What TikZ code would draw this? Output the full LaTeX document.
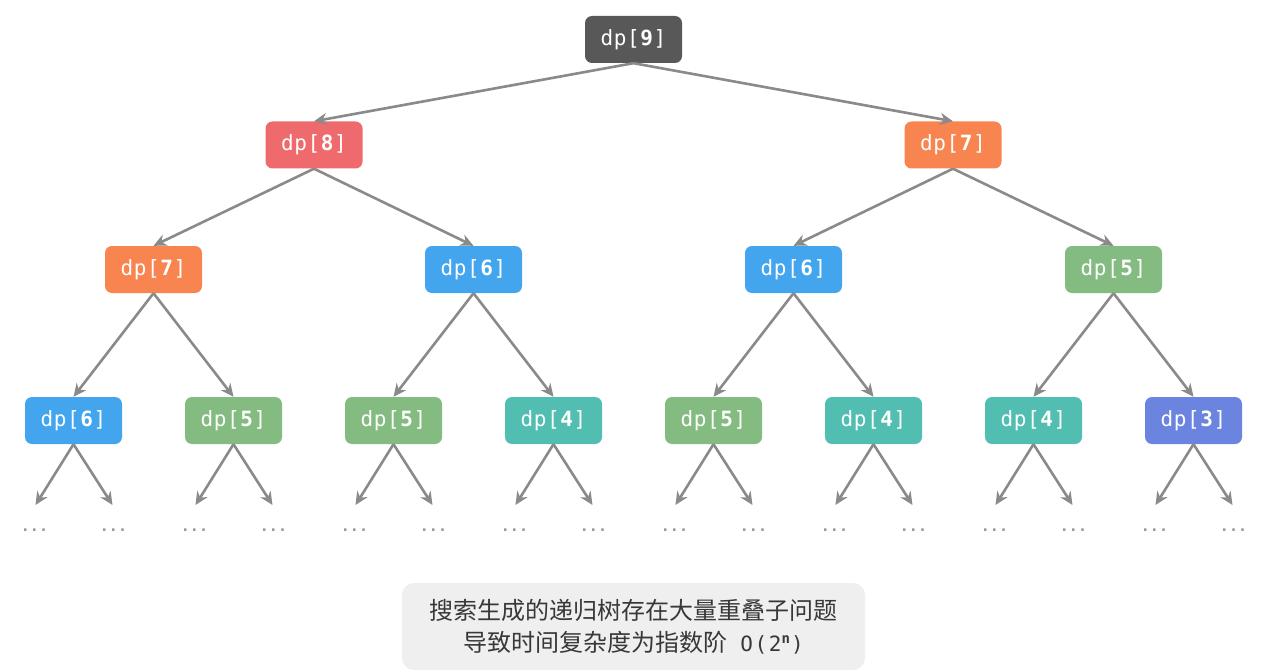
\documentclass[tikz,border=0pt]{standalone}
\usepackage{fontspec}
\setmainfont{DejaVu Sans}
\newfontfamily\dpmono[LetterSpace=3]{DejaVu Sans Mono}
\newfontfamily\capmono[LetterSpace=8]{DejaVu Sans Mono}
\newfontfamily\plainmono{DejaVu Sans Mono}
\newfontfamily\cjkfont{Noto Sans CJK SC}
\usetikzlibrary{arrows.meta}
\definecolor{cnine}{HTML}{585858}
\definecolor{ceight}{HTML}{EE6A6C}
\definecolor{cseven}{HTML}{F8854F}
\definecolor{csix}{HTML}{42A5EE}
\definecolor{cfive}{HTML}{83BB80}
\definecolor{cfour}{HTML}{52BDB1}
\definecolor{cthree}{HTML}{6B84DF}
\definecolor{edgegray}{HTML}{8A8A8A}
\definecolor{dotgray}{HTML}{999999}
\definecolor{capbg}{HTML}{EFEFEF}
\definecolor{captext}{HTML}{383838}
\newcommand\dpl[1]{dp[\textbf{#1}]}
\tikzset{
  dpbox/.style={rounded corners=7pt, minimum width=97pt, minimum height=47pt,
    inner sep=0pt, text=white, font=\dpmono\fontsize{21}{21}\selectfont},
  edge/.style={draw=edgegray, line width=2.6pt, -{Stealth[length=13pt,width=12pt]}},
  leafdots/.style={text=dotgray, inner sep=0pt, font=\plainmono\bfseries\fontsize{15}{15}\selectfont}
}
\begin{document}
\begin{tikzpicture}[x=1pt,y=-1pt]
\useasboundingbox (0,0) rectangle (1266,671);
% level 0
\node[dpbox, fill=cnine] (n9) at (633.5,39.5) {\dpl{9}};
% level 1
\node[dpbox, fill=ceight] (a8) at (314,145) {\dpl{8}};
\node[dpbox, fill=cseven] (a7) at (953,145) {\dpl{7}};
% level 2
\node[dpbox, fill=cseven] (b7) at (153.5,269.5) {\dpl{7}};
\node[dpbox, fill=csix]   (b6) at (473.5,269.5) {\dpl{6}};
\node[dpbox, fill=csix]   (c6) at (793.5,269.5) {\dpl{6}};
\node[dpbox, fill=cfive]  (c5) at (1113.5,269.5) {\dpl{5}};
% level 3
\node[dpbox, fill=csix]   (d1) at (73.5,420.5) {\dpl{6}};
\node[dpbox, fill=cfive]  (d2) at (233.5,420.5) {\dpl{5}};
\node[dpbox, fill=cfive]  (d3) at (393.5,420.5) {\dpl{5}};
\node[dpbox, fill=cfour]  (d4) at (553.5,420.5) {\dpl{4}};
\node[dpbox, fill=cfive]  (d5) at (713.5,420.5) {\dpl{5}};
\node[dpbox, fill=cfour]  (d6) at (873.5,420.5) {\dpl{4}};
\node[dpbox, fill=cfour]  (d7) at (1033.5,420.5) {\dpl{4}};
\node[dpbox, fill=cthree] (d8) at (1193.5,420.5) {\dpl{3}};
% edges
\draw[edge] (n9.south) -- (a8.north);
\draw[edge] (n9.south) -- (a7.north);
\draw[edge] (a8.south) -- (b7.north);
\draw[edge] (a8.south) -- (b6.north);
\draw[edge] (a7.south) -- (c6.north);
\draw[edge] (a7.south) -- (c5.north);
\draw[edge] (b7.south) -- (d1.north);
\draw[edge] (b7.south) -- (d2.north);
\draw[edge] (b6.south) -- (d3.north);
\draw[edge] (b6.south) -- (d4.north);
\draw[edge] (c6.south) -- (d5.north);
\draw[edge] (c6.south) -- (d6.north);
\draw[edge] (c5.south) -- (d7.north);
\draw[edge] (c5.south) -- (d8.north);
% leaves
\foreach \p/\x in {d1/73.5,d2/233.5,d3/393.5,d4/553.5,d5/713.5,d6/873.5,d7/1033.5,d8/1193.5}{
  \coordinate (\p l) at (\x-38,505);
  \coordinate (\p r) at (\x+39,505);
  \node[leafdots, anchor=base] (\p ld) at (\x-39,531) {...};
  \node[leafdots, anchor=base] (\p rd) at (\x+40,531) {...};
  \draw[edge] (\p.south) -- (\p l);
  \draw[edge] (\p.south) -- (\p r);
}
% caption
\node[fill=capbg, rounded corners=12pt, minimum width=463pt, minimum height=87pt,
  inner sep=0pt, text=captext, align=center,
  font=\cjkfont\fontsize{24}{32}\selectfont] (cap) at (633.5,626.5)
  {搜索生成的递归树存在大量重叠子问题\\导致时间复杂度为指数阶\hspace{13pt}{\capmono\fontsize{21}{21}\selectfont O(2\raisebox{8pt}{\fontsize{14}{14}\selectfont\textbf{n}})}};
\end{tikzpicture}
\end{document}
